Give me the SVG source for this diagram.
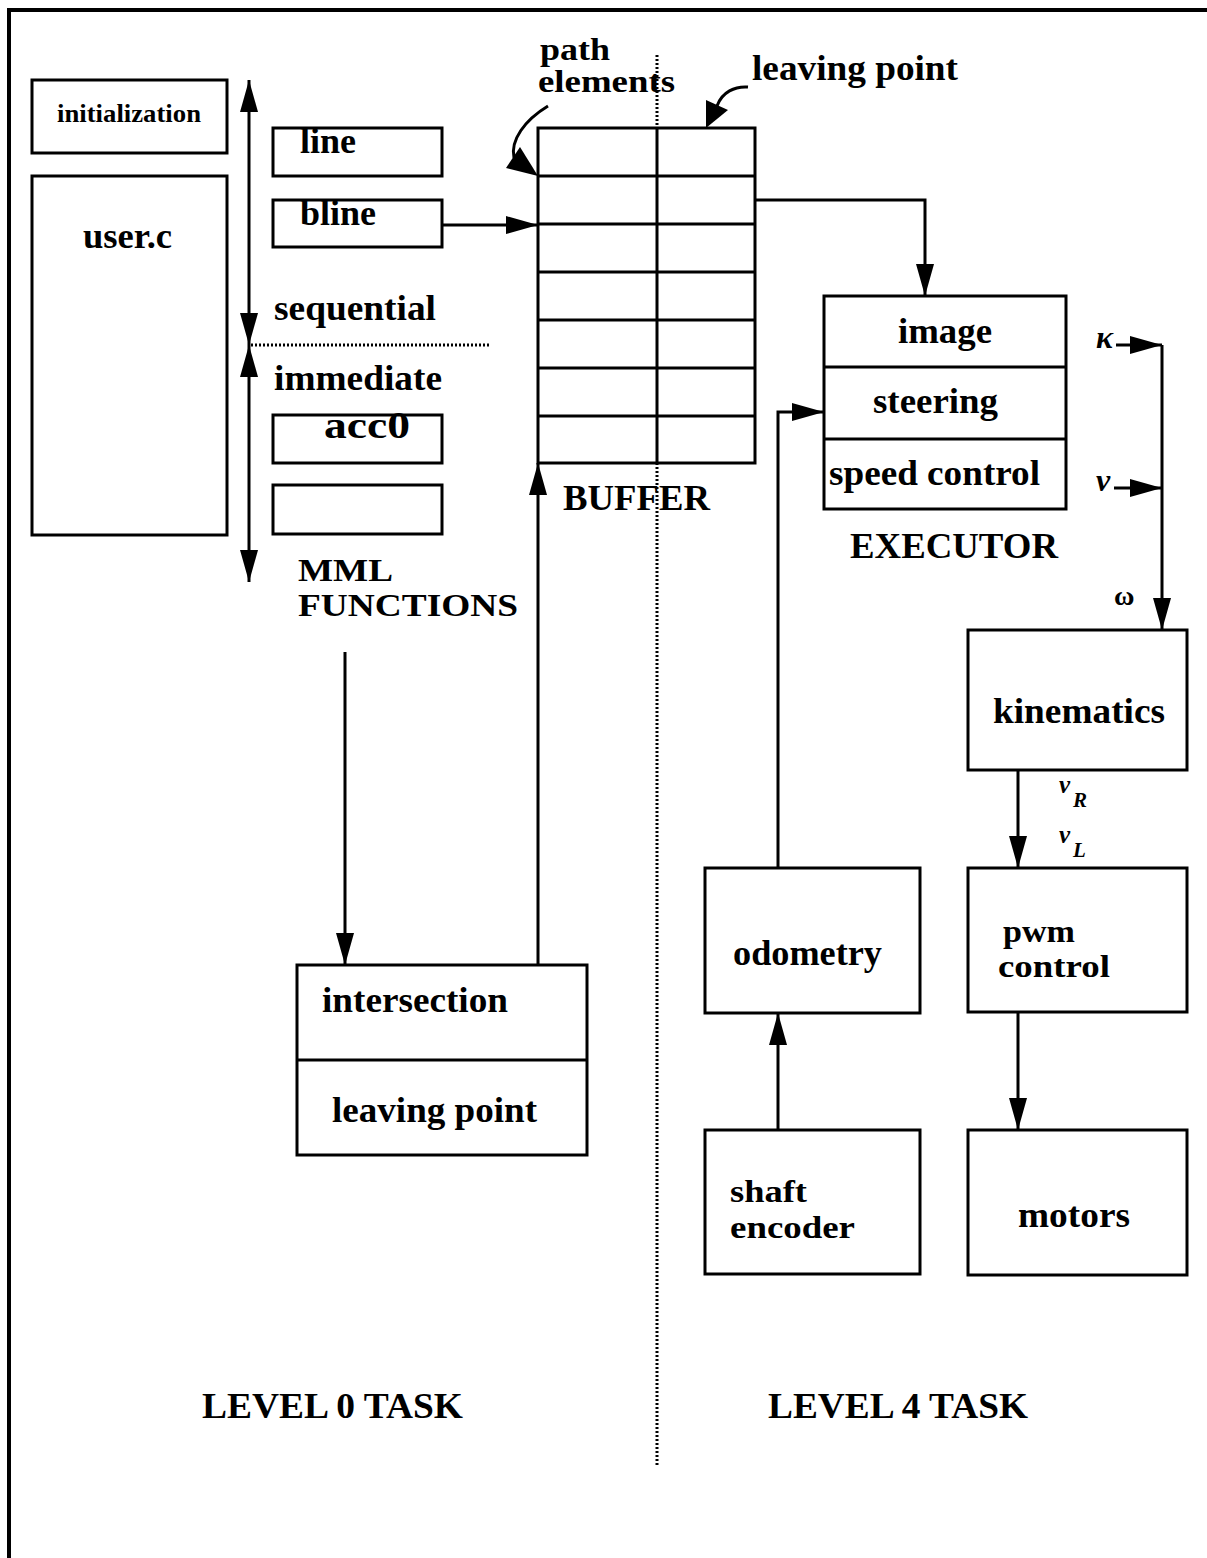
<svg xmlns="http://www.w3.org/2000/svg" width="1207" height="1558" viewBox="0 0 1207 1558">
<style>
.box{fill:#fff;stroke:#000;stroke-width:3}
.sep{stroke:#000;stroke-width:3;fill:none}
.t{font-family:"Liberation Serif","Times New Roman",serif;font-weight:bold;font-size:36px;fill:#000}
.m{font-size:31px}
.s{font-size:26px}
.g{font-style:italic;font-size:32px}
.w{font-style:normal;font-size:28px}
.v{font-style:italic;font-size:25px}
.sub{font-style:italic;font-size:21px}
.c{stroke:#000;stroke-width:3;fill:none}
.dot{stroke:#000;stroke-width:3;stroke-dasharray:2 2;fill:none}
</style>
<defs>
<marker id="ah" viewBox="0 0 32 18" refX="32" refY="9" markerWidth="32" markerHeight="18" markerUnits="userSpaceOnUse" orient="auto-start-reverse">
<path d="M0,0 L32,9 L0,18 z" fill="#000"/>
</marker>
<marker id="ahs" viewBox="0 0 26 16" refX="26" refY="8" markerWidth="26" markerHeight="16" markerUnits="userSpaceOnUse" orient="auto">
<path d="M0,0 L26,8 L0,16 z" fill="#000"/>
</marker>
</defs>
<rect width="1207" height="1558" fill="#fff"/>
<g id="frame">
<path d="M9,1558 V10 H1207" stroke="#000" stroke-width="4" fill="none"/>
</g>
<g id="connectors">
<path class="c" d="M249,345 V80" marker-end="url(#ah)" marker-start="url(#ah)"/>
<path class="c" d="M249,345 V582" marker-end="url(#ah)" marker-start="url(#ah)"/>
<path class="dot" d="M251,345 H490"/>
<path class="dot" d="M657,55 V1465"/>
<path class="c" d="M442,225 H538" marker-end="url(#ah)"/>
<path class="c" d="M755,200 H925 V296" marker-end="url(#ah)"/>
<path class="c" d="M345,652 V965" marker-end="url(#ah)"/>
<path class="c" d="M538,965 V463" marker-end="url(#ah)"/>
<path class="c" d="M442,1033 V1083" marker-end="url(#ahs)"/>
<path class="c" d="M778,868 V412 H824" marker-end="url(#ah)"/>
<path class="c" d="M778,1130 V1013" marker-end="url(#ah)"/>
<path class="c" d="M1116,345 H1162" marker-end="url(#ah)"/>
<path class="c" d="M1114,488 H1162" marker-end="url(#ah)"/>
<path class="c" d="M1162,345 V630" marker-end="url(#ah)"/>
<path class="c" d="M1018,770 V868" marker-end="url(#ah)"/>
<path class="c" d="M1018,1012 V1130" marker-end="url(#ah)"/>
<path class="c" stroke-width="5" d="M548,106 C525,120 510,140 514,158"/>
<polygon points="538,176 506,168 520,147" fill="#000"/>
<path class="c" stroke-width="5" d="M748,87 C735,86 722,92 717,106"/>
<polygon points="706,128 706,100 728,110" fill="#000"/>
</g>
<g id="initialization">
<rect class="box" x="32" y="80" width="195" height="73"/>
<text class="t s" x="57" y="122" textLength="144" lengthAdjust="spacingAndGlyphs">initialization</text>
</g>
<g id="userc">
<rect class="box" x="32" y="176" width="195" height="359"/>
<text class="t" x="83" y="248" textLength="89" lengthAdjust="spacingAndGlyphs">user.c</text>
</g>
<g id="labels-left">
<text class="t" x="274" y="320" textLength="162" lengthAdjust="spacingAndGlyphs">sequential</text>
<text class="t" x="274" y="390" textLength="168" lengthAdjust="spacingAndGlyphs">immediate</text>
<text class="t m" x="298" y="581" textLength="95" lengthAdjust="spacingAndGlyphs">MML</text>
<text class="t m" x="298" y="616" textLength="220" lengthAdjust="spacingAndGlyphs">FUNCTIONS</text>
</g>
<g id="line">
<rect class="box" x="273" y="128" width="169" height="48"/>
<text class="t" x="300" y="153">line</text>
</g>
<g id="bline">
<rect class="box" x="273" y="200" width="169" height="47"/>
<text class="t" x="300" y="225">bline</text>
</g>
<g id="acc0">
<rect class="box" x="273" y="415" width="169" height="48"/>
<text class="t" x="324" y="438" style="font-size:38px" textLength="86" lengthAdjust="spacingAndGlyphs">acc0</text>
</g>
<g id="empty">
<rect class="box" x="273" y="485" width="169" height="49"/>
</g>
<g id="buffer">
<rect class="box" x="538" y="128" width="217" height="335"/>
<path class="sep" d="M538,176 H755 M538,224 H755 M538,272 H755 M538,320 H755 M538,368 H755 M538,416 H755 M657,128 V463"/>
<text class="t" x="563" y="510" textLength="147" lengthAdjust="spacingAndGlyphs">BUFFER</text>
</g>
<g id="annotations">
<text class="t m" x="540" y="60" textLength="70" lengthAdjust="spacingAndGlyphs">path</text>
<text class="t m" x="538" y="92" textLength="137" lengthAdjust="spacingAndGlyphs">elements</text>
<text class="t" x="752" y="80" textLength="206" lengthAdjust="spacingAndGlyphs">leaving point</text>
</g>
<g id="executor">
<rect class="box" x="824" y="296" width="242" height="213"/>
<path class="sep" d="M824,367 H1066 M824,439 H1066"/>
<text class="t" x="898" y="343" textLength="94" lengthAdjust="spacingAndGlyphs">image</text>
<text class="t" x="873" y="413" textLength="125" lengthAdjust="spacingAndGlyphs">steering</text>
<text class="t" x="829" y="485" textLength="211" lengthAdjust="spacingAndGlyphs">speed control</text>
<text class="t" x="850" y="558" textLength="208" lengthAdjust="spacingAndGlyphs">EXECUTOR</text>
</g>
<g id="signals">
<text class="t g" x="1096" y="348">κ</text>
<text class="t g" x="1096" y="491">ν</text>
<text class="t w" x="1114" y="605">ω</text>
<text class="t v" x="1059" y="793">v</text>
<text class="t sub" x="1073" y="807">R</text>
<text class="t v" x="1059" y="843">v</text>
<text class="t sub" x="1073" y="857">L</text>
</g>
<g id="intersection">
<rect class="box" x="297" y="965" width="290" height="190"/>
<path class="sep" d="M297,1060 H587"/>
<text class="t" x="322" y="1012" textLength="186" lengthAdjust="spacingAndGlyphs">intersection</text>
<text class="t" x="332" y="1122" textLength="205" lengthAdjust="spacingAndGlyphs">leaving point</text>
</g>
<g id="kinematics">
<rect class="box" x="968" y="630" width="219" height="140"/>
<text class="t" x="993" y="723" textLength="172" lengthAdjust="spacingAndGlyphs">kinematics</text>
</g>
<g id="odometry">
<rect class="box" x="705" y="868" width="215" height="145"/>
<text class="t" x="733" y="965" textLength="149" lengthAdjust="spacingAndGlyphs">odometry</text>
</g>
<g id="pwm">
<rect class="box" x="968" y="868" width="219" height="144"/>
<text class="t m" x="1003" y="942" textLength="72" lengthAdjust="spacingAndGlyphs">pwm</text>
<text class="t m" x="998" y="977" textLength="112" lengthAdjust="spacingAndGlyphs">control</text>
</g>
<g id="shaft">
<rect class="box" x="705" y="1130" width="215" height="144"/>
<text class="t m" x="730" y="1202" textLength="77" lengthAdjust="spacingAndGlyphs">shaft</text>
<text class="t m" x="730" y="1238" textLength="125" lengthAdjust="spacingAndGlyphs">encoder</text>
</g>
<g id="motors">
<rect class="box" x="968" y="1130" width="219" height="145"/>
<text class="t" x="1018" y="1227" textLength="112" lengthAdjust="spacingAndGlyphs">motors</text>
</g>
<g id="tasks">
<text class="t" x="202" y="1418" textLength="261" lengthAdjust="spacingAndGlyphs">LEVEL 0 TASK</text>
<text class="t" x="768" y="1418" textLength="260" lengthAdjust="spacingAndGlyphs">LEVEL 4 TASK</text>
</g>
</svg>
